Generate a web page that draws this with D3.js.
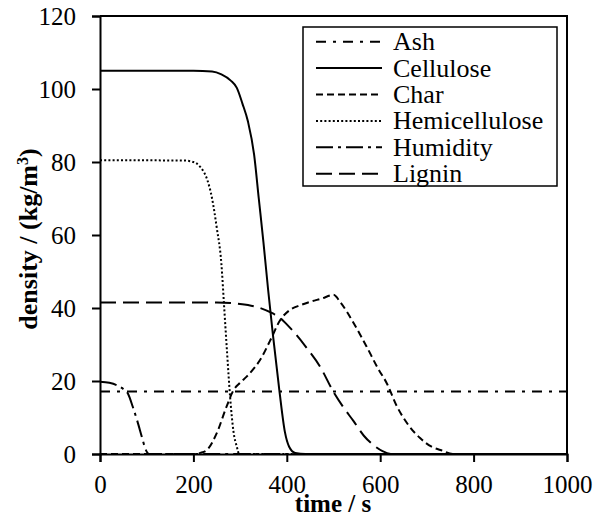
<!DOCTYPE html>
<html><head><meta charset="utf-8">
<script src="https://cdn.jsdelivr.net/npm/d3@7"></script>
<style>body{margin:0;background:#fff}svg{display:block}text{font-family:"Liberation Serif","Times New Roman",serif;fill:#000}</style>
</head><body><svg id="c" width="607" height="526"></svg>
<script>
const seriesNames = ["Ash","Cellulose","Char","Hemicellulose","Humidity","Lignin"];
const xTicks = [0,200,400,600,800,1000];
const yTicks = [0,20,40,60,80,100,120];
const ashT = [0,1000];
const ashV = [17.1,17.1];
const celluloseT = [0,200,240,260,280,293,305,317,330,340,350,360,370,384,396,405,418,440,1000];
const celluloseV = [105,105,104.8,104,102.3,100.3,96,91,82,70,58,45,33,17.5,6,2,0.3,0,0];
const charT = [0,200,215,229,250,271,286,300,314,330,343,364,386,407,430,450,475,500,515,543,571,595,614,636,660,686,710,729,757,1000];
const charV = [0,0,0.3,1.1,5.7,13,17.5,19.5,21.2,23.5,25.8,31,36.7,39.5,40.8,41.7,42.6,43.6,41.5,35.9,29.4,23.5,19.4,13,8,4.3,2,1.1,0,0];
const hemiT = [0,180,200,215,230,240,250,260,266,272,279,286,293,298,1000];
const hemiV = [80.5,80.4,80,78.6,75,70,62,52,40,28,15,6,2,0,0];
const humT = [0,20,40,50,60,70,80,90,97,105,1000];
const humV = [19.8,19.5,18.6,17.8,16.5,13,9,4.5,1.5,0,0];
const ligninT = [0,250,300,343,370,386,400,418,440,471,500,520,543,565,585,605,625,1000];
const ligninV = [41.5,41.5,41.1,40,38.5,37.3,35.5,33,29.5,24,17,13,9,5,2.5,0.8,0,0];

const styles = {
  Ash:{dash:"10,7,3,7"},
  Cellulose:{dash:null},
  Char:{dash:"7,4"},
  Hemicellulose:{dash:"2,2.2"},
  Humidity:{dash:"17,5,3,5"},
  Lignin:{dash:"16,7"}
};
const seriesData = {
  Ash: ashT.map((t,i)=>({t,v:ashV[i]})),
  Cellulose: celluloseT.map((t,i)=>({t,v:celluloseV[i]})),
  Char: charT.map((t,i)=>({t,v:charV[i]})),
  Hemicellulose: hemiT.map((t,i)=>({t,v:hemiV[i]})),
  Humidity: humT.map((t,i)=>({t,v:humV[i]})),
  Lignin: ligninT.map((t,i)=>({t,v:ligninV[i]}))
};

const L=100,R=567,T=16,B=454;
const FF='"Liberation Serif","Times New Roman",serif';
const svg=d3.select("#c");
const x=d3.scaleLinear().domain([0,1000]).range([L,R]);
const y=d3.scaleLinear().domain([0,120]).range([B,T]);

const line=d3.line().x(d=>x(d.t)).y(d=>y(d.v)).curve(d3.curveMonotoneX);
const g=svg.append("g");
seriesNames.forEach(n=>{
  g.append("path").datum(seriesData[n]).attr("d",line)
   .attr("fill","none").attr("stroke","#000").attr("stroke-width",2)
   .attr("stroke-dasharray",styles[n].dash);
});

svg.append("path").attr("d",`M${L},${T}H${R}V${B}`).attr("fill","none").attr("stroke","#000").attr("stroke-width",2);

const xa=svg.append("g").attr("transform",`translate(0,${B})`)
  .call(d3.axisBottom(x).tickValues(xTicks).tickSize(8).tickPadding(13).tickFormat(d3.format("d")));
const ya=svg.append("g").attr("transform",`translate(${L},0)`)
  .call(d3.axisLeft(y).tickValues(yTicks).tickSize(8).tickPadding(16).tickFormat(d3.format("d")));
[xa,ya].forEach(a=>{
  a.attr("font-family",FF);
  a.select(".domain").attr("stroke-width",2);
  a.selectAll(".tick line").attr("stroke-width",2);
  a.selectAll("text").style("font-size","25px").style("font-family",FF);
});

svg.append("text").attr("x",333).attr("y",512).attr("text-anchor","middle")
  .style("font-family",FF).style("font-size","25px").style("font-weight","bold").text("time / s");
const yt=svg.append("text").attr("transform",`translate(37,239) rotate(-90)`).attr("text-anchor","middle")
  .style("font-family",FF).style("font-size","26px").style("font-weight","bold");
yt.append("tspan").text("density / (kg/m");
yt.append("tspan").attr("dy",-9).style("font-size","16px").text("3");
yt.append("tspan").attr("dy",9).text(")");

const lg=svg.append("g");
lg.append("rect").attr("x",303).attr("y",27).attr("width",254).attr("height",159)
  .attr("fill","#fff").attr("stroke","#000").attr("stroke-width",1.5);
const ly0=41.7, lstep=26.4;
seriesNames.forEach((n,i)=>{
  const yy=ly0+i*lstep;
  lg.append("line").attr("x1",316).attr("x2",382).attr("y1",yy).attr("y2",yy)
    .attr("stroke","#000").attr("stroke-width",2).attr("stroke-dasharray",styles[n].dash);
  lg.append("text").attr("x",393).attr("y",yy+8.5).style("font-family",FF).style("font-size","26px").text(n);
});
</script></body></html>
